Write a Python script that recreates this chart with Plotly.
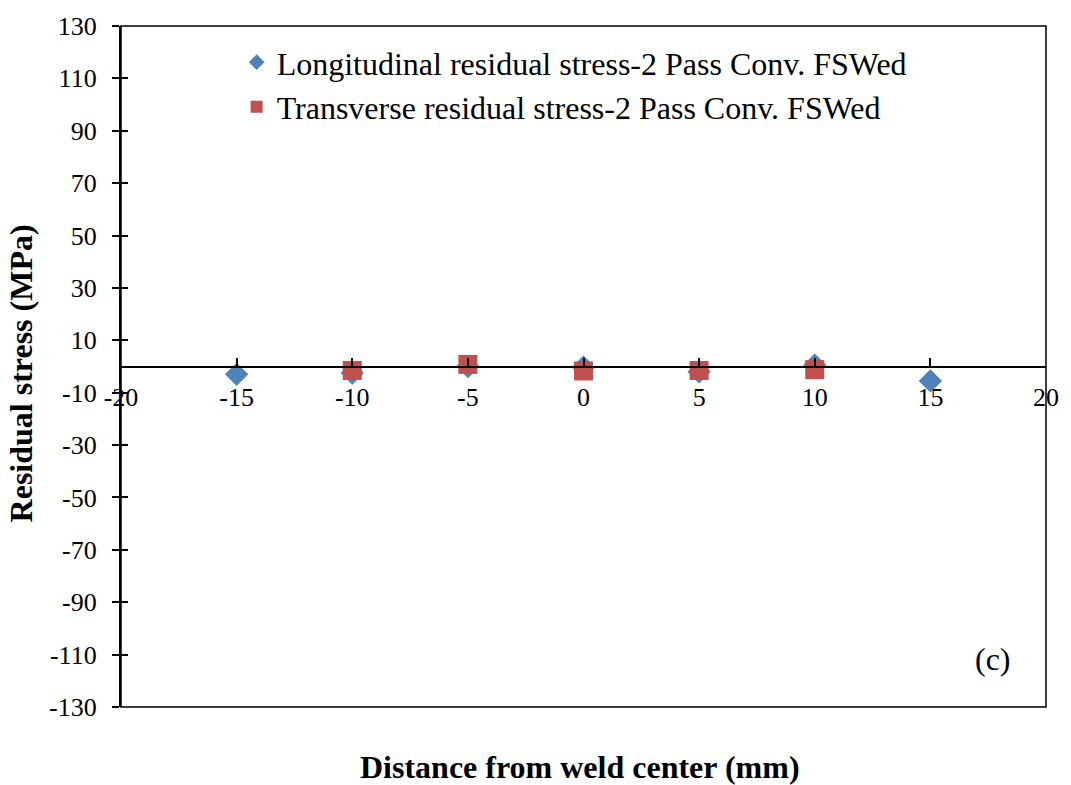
import plotly.graph_objects as go

# Distance from weld center (mm) and measured residual stress (MPa)
long_x = [-15, -10, -5, 0, 5, 10, 15]
long_stress = [-3.0, -2.5, 0.0, -0.3, -2.0, 0.5, -5.5]

trans_x = [-10, -5, 0, 5, 10]
trans_stress = [-1.5, 0.8, -1.7, -1.5, -1.2]

y_ticks = list(range(-130, 131, 20))
x_ticks = list(range(-20, 21, 5))

FONT = "Liberation Serif"

fig = go.Figure()
fig.add_trace(go.Scatter(
    x=long_x, y=long_stress, mode="markers",
    name="Longitudinal residual stress-2 Pass Conv. FSWed",
    marker=dict(symbol="diamond", size=18, color="#4F81BD"),
))
fig.add_trace(go.Scatter(
    x=trans_x, y=trans_stress, mode="markers",
    name="Transverse residual stress-2 Pass Conv. FSWed",
    marker=dict(symbol="square", size=19, color="#C0504D"),
))
# invisible trace to carry the inward half of the y-axis cross ticks
fig.add_trace(go.Scatter(x=[None], y=[None], yaxis="y2", showlegend=False))

fig.update_layout(
    width=1071, height=785,
    margin=dict(l=121, r=20, t=21, b=78),
    paper_bgcolor="white", plot_bgcolor="white",
    font=dict(family=FONT, size=26, color="black"),
    showlegend=True,
    legend=dict(
        x=0.125, y=0.987, xanchor="left", yanchor="top",
        bgcolor="rgba(0,0,0,0)", font=dict(family=FONT, size=32),
        itemsizing="constant", tracegroupgap=0,
    ),
    xaxis=dict(
        range=[-20, 20], tickvals=x_ticks, ticktext=[str(v) for v in x_ticks],
        anchor="free", position=0.5,
        showline=True, linecolor="black", linewidth=1.5,
        ticks="inside", ticklen=8, tickwidth=1.5, tickcolor="black",
        ticklabelstandoff=8,
        showgrid=False, zeroline=False,
        tickfont=dict(family=FONT, size=26),
    ),
    yaxis=dict(
        range=[-130, 130], tickvals=y_ticks,
        ticktext=[f"{v}\u2009\u2009" for v in y_ticks],
        showline=True, linecolor="black", linewidth=1.5,
        ticks="outside", ticklen=7, tickwidth=1.5, tickcolor="black",
        showgrid=False, zeroline=False,
        tickfont=dict(family=FONT, size=26),
    ),
    yaxis2=dict(
        range=[-130, 130], tickvals=y_ticks, overlaying="y", side="left",
        showticklabels=False, ticks="inside", ticklen=7, tickwidth=1.5,
        tickcolor="black", showgrid=False, zeroline=False, showline=False,
    ),
    shapes=[dict(
        type="rect", xref="paper", yref="paper", x0=0, x1=1, y0=0, y1=1,
        line=dict(color="black", width=1.5), fillcolor="rgba(0,0,0,0)",
    )],
    annotations=[
        dict(text="<b>Distance from weld center (mm)</b>", xref="paper", yref="paper",
             x=0.496, y=-0.088, xanchor="center", yanchor="middle", showarrow=False,
             font=dict(family=FONT, size=32)),
        dict(text="<b>Residual stress (MPa)</b>", xref="paper", yref="paper",
             x=-0.108, y=0.49, xanchor="center", yanchor="middle", textangle=-90,
             showarrow=False, font=dict(family=FONT, size=32)),
        dict(text="(c)", xref="paper", yref="paper", x=0.943, y=0.07,
             xanchor="center", yanchor="middle", showarrow=False,
             font=dict(family=FONT, size=32)),
    ],
)

fig.write_html("out.html")
